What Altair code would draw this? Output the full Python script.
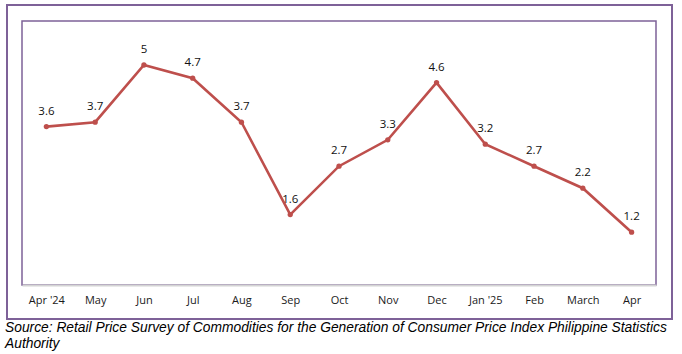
import altair as alt
import pandas as pd

months = ["Apr '24", "May", "Jun", "Jul", "Aug", "Sep", "Oct", "Nov", "Dec",
          "Jan '25", "Feb", "March", "Apr"]
values = [3.6, 3.7, 5, 4.7, 3.7, 1.6, 2.7, 3.3, 4.6, 3.2, 2.7, 2.2, 1.2]
labels = ["3.6", "3.7", "5", "4.7", "3.7", "1.6", "2.7", "3.3", "4.6", "3.2", "2.7", "2.2", "1.2"]

df = pd.DataFrame({"month": months, "value": values, "label": labels})

LINE = "#BE4F4C"
PURPLE = "#7E6198"
FONT = "Open Sans"

x = alt.X("month:N", sort=months,
          scale=alt.Scale(paddingOuter=0.5, paddingInner=1),
          axis=alt.Axis(title=None, labelAngle=0, ticks=False, domainColor="#D4D4D4",
                        domainWidth=2, labelPadding=9, labelFont=FONT, labelFontSize=11,
                        labelColor="#1a1a1a", zindex=1))
y = alt.Y("value:Q", scale=alt.Scale(domain=[0, 6], nice=False), axis=None)

base = alt.Chart(df)

border = base.mark_rect(filled=False, stroke=PURPLE, strokeWidth=2).encode(
    x=alt.value(-15), x2=alt.value(650), y=alt.value(-16), y2=alt.value(298)
).transform_filter(alt.datum.month == "May")

line = base.mark_line(color=LINE, strokeWidth=2.6).encode(x=x, y=y)
pts = base.mark_circle(color=LINE, size=28, opacity=1).encode(x=x, y=y)
txt = base.mark_text(dy=-15, fontSize=11.5, font=FONT, color="#111111").encode(
    x=x, y=y, text="label:N")

chart = alt.layer(border, line, pts, txt).properties(
    width=634, height=264,
    background="white",
    padding={"left": 22, "top": 21, "right": 26, "bottom": 69},
    autosize=alt.AutoSizeParams(type="none"),
    title=alt.TitleParams(
        ["Source: Retail Price Survey of Commodities for the Generation of Consumer Price Index Philippine Statistics",
         "Authority"],
        orient="bottom", anchor="start", frame="group", dx=-17, offset=1,
        font="Liberation Sans", fontSize=13.8, fontStyle="italic", fontWeight="normal",
        color="#000000", lineHeight=16)
).configure_view(stroke=PURPLE, strokeWidth=1.5)

chart.save("out.html", embed_options={"renderer": "svg", "actions": False})
